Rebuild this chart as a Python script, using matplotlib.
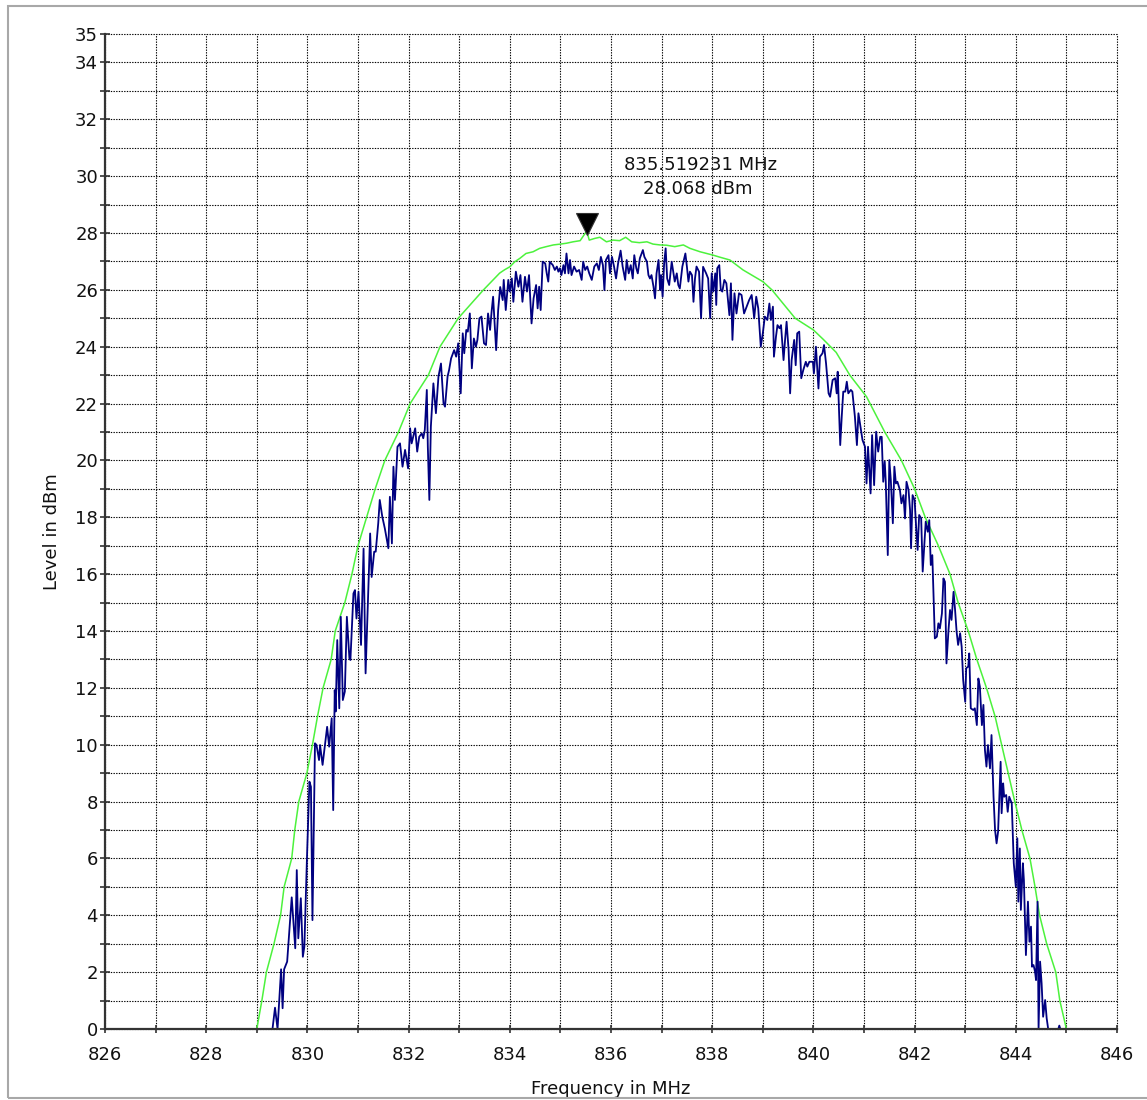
import matplotlib
matplotlib.use("Agg")
import matplotlib.pyplot as plt
from matplotlib.ticker import FixedLocator, FixedFormatter
from matplotlib.transforms import ScaledTranslation
from matplotlib.patches import Rectangle

plt.rcParams['font.family'] = ['DejaVu Sans']

# ---------------- data ----------------
x_ticks = list(range(826, 847))
x_tick_labels = ['826', '', '828', '', '830', '', '832', '', '834', '', '836', '', '838', '',
                 '840', '', '842', '', '844', '', '846']
y_ticks = list(range(0, 36))
y_tick_labels = ['0', '', '2', '', '4', '', '6', '', '8', '', '10', '', '12', '', '14', '', '16', '',
                 '18', '', '20', '', '22', '', '24', '', '26', '', '28', '', '30', '', '32', '', '34', '35']

maxhold_freq = [829.00, 829.05, 829.10, 829.19, 829.34, 829.47, 829.54, 829.69, 829.75, 829.83, 829.99,
                830.10, 830.20, 830.31, 830.47, 830.55, 830.74, 830.88, 831.00, 831.17, 831.34, 831.53,
                831.80, 832.03, 832.39, 832.62, 832.98, 833.48, 833.80, 833.90, 834.00, 834.10, 834.20,
                834.32, 834.46, 834.59, 834.72, 834.86, 835.00, 835.12, 835.25, 835.39, 835.52, 835.57,
                835.68, 835.78, 835.91, 836.04, 836.17, 836.29, 836.41, 836.56, 836.71, 836.83, 836.97,
                837.10, 837.26, 837.43, 837.56, 837.76, 837.89, 838.02, 838.15, 838.35, 838.61, 839.00,
                839.18, 839.64, 840.00, 840.20, 840.45, 840.72, 841.05, 841.41, 841.74, 842.00,
                842.21, 842.47, 842.70, 842.86, 843.06, 843.23, 843.42, 843.59, 843.72, 843.85, 843.98,
                844.12, 844.28, 844.38, 844.47, 844.61, 844.79, 844.87, 845.00]
maxhold_level = [0.0, 0.5, 1.0, 2.0, 3.0, 4.0, 5.0, 6.0, 7.0, 8.0, 9.0,
                 10.0, 11.0, 12.0, 13.0, 14.0, 15.0, 16.0, 17.0, 18.0, 19.0, 20.0,
                 21.0, 22.0, 23.0, 24.0, 25.0, 26.0, 26.59, 26.71, 26.81, 26.99, 27.11,
                 27.28, 27.34, 27.46, 27.52, 27.58, 27.61, 27.64, 27.69, 27.73, 28.07, 27.75,
                 27.81, 27.85, 27.69, 27.75, 27.73, 27.85, 27.69, 27.66, 27.69, 27.61, 27.58,
                 27.57, 27.52, 27.58, 27.46, 27.34, 27.28, 27.22, 27.15, 27.05, 26.70, 26.29,
                 26.0, 25.0, 24.59, 24.25, 23.80, 23.0, 22.24, 21.0, 20.0, 19.0,
                 18.0, 17.0, 16.0, 15.0, 14.0, 13.0, 12.0, 11.0, 10.0, 9.0, 8.0,
                 7.0, 6.0, 5.0, 4.0, 3.0, 2.0, 1.0, 0.0]

trace_freq = [
    829.31, 829.36, 829.41, 829.48, 829.51, 829.54, 829.60, 829.69, 829.76, 829.79, 829.82, 829.87,
    829.91, 829.94, 829.99, 830.04, 830.07, 830.10, 830.15, 830.18, 830.23, 830.25, 830.30, 830.35,
    830.39, 830.43, 830.48, 830.51, 830.54, 830.56, 830.59, 830.63, 830.66, 830.70, 830.74, 830.78,
    830.83, 830.85, 830.91, 830.94, 830.97, 831.01, 831.06, 831.11, 831.15, 831.21, 831.24, 831.27,
    831.32, 831.35, 831.40, 831.43, 831.48, 831.53, 831.60, 831.63, 831.67, 831.70, 831.73, 831.78,
    831.83, 831.88, 831.93, 831.99, 832.03, 832.06, 832.09, 832.13, 832.17, 832.21, 832.26, 832.29,
    832.32, 832.36, 832.38, 832.41, 832.44, 832.49, 832.54, 832.59, 832.64, 832.69, 832.72, 832.77,
    832.80, 832.84, 832.90, 832.94, 832.98, 833.03, 833.07, 833.10, 833.14, 833.17, 833.21, 833.25,
    833.29, 833.33, 833.36, 833.40, 833.44, 833.49, 833.53, 833.57, 833.61, 833.64, 833.67, 833.73,
    833.77,
    833.81, 833.86, 833.88, 833.92, 833.97, 834.00, 834.04, 834.07, 834.12, 834.17, 834.21, 834.25,
    834.30, 834.34, 834.38, 834.43, 834.47, 834.52, 834.55, 834.58, 834.61, 834.65, 834.70, 834.73,
    834.76, 834.79, 834.85, 834.89, 834.93, 834.96, 834.99, 835.02, 835.06, 835.09, 835.12, 835.16,
    835.19, 835.22, 835.27, 835.32, 835.37, 835.42, 835.45, 835.49, 835.53, 835.57, 835.62, 835.67,
    835.72, 835.76, 835.80, 835.84, 835.87, 835.90, 835.95, 835.98, 836.02, 836.06, 836.10, 836.14,
    836.19, 836.23, 836.28, 836.31, 836.35, 836.39, 836.43, 836.46, 836.50, 836.53, 836.57, 836.63,
    836.66, 836.71, 836.74, 836.77, 836.80, 836.84, 836.87, 836.90, 836.94, 836.97, 836.99, 837.02,
    837.05, 837.08, 837.11, 837.15, 837.20, 837.23, 837.26, 837.30, 837.33, 837.36, 837.41, 837.47,
    837.50, 837.53, 837.56, 837.60, 837.63, 837.66, 837.69, 837.74,
    837.78, 837.82, 837.88, 837.92, 837.96, 837.99, 838.02, 838.06, 838.08, 838.10, 838.14, 838.17,
    838.20, 838.24, 838.28, 838.34, 838.37, 838.40, 838.44, 838.48, 838.53, 838.58, 838.63, 838.68,
    838.73, 838.78, 838.83, 838.87, 838.91, 838.96, 839.00, 839.04, 839.09, 839.13, 839.16, 839.20,
    839.22, 839.26, 839.29, 839.33, 839.36, 839.41, 839.44, 839.47, 839.51, 839.54, 839.57, 839.62,
    839.65, 839.68, 839.72, 839.76, 839.80, 839.85, 839.88, 839.92, 839.95, 839.99, 840.01, 840.05,
    840.07, 840.10, 840.13, 840.18, 840.21, 840.25, 840.30, 840.33, 840.38, 840.43, 840.46, 840.48,
    840.53, 840.56, 840.59, 840.63, 840.66, 840.69, 840.74, 840.77, 840.82, 840.86, 840.89, 840.93,
    840.97,
    841.02, 841.05, 841.08, 841.13, 841.16, 841.20, 841.24, 841.28, 841.32, 841.35, 841.38, 841.41,
    841.43, 841.47, 841.50, 841.53, 841.57, 841.60, 841.63, 841.66, 841.71, 841.74, 841.78, 841.81,
    841.84, 841.88, 841.91, 841.93, 841.96, 842.00, 842.03, 842.06, 842.09, 842.13, 842.16, 842.19,
    842.22, 842.26, 842.29, 842.32, 842.35, 842.40, 842.44, 842.47, 842.50, 842.54, 842.57, 842.60,
    842.63, 842.67, 842.70, 842.73, 842.77, 842.80, 842.83, 842.86, 842.90, 842.93,
    842.96, 843.00, 843.02, 843.06, 843.08, 843.11, 843.16, 843.19, 843.23, 843.26, 843.29, 843.33,
    843.36, 843.39, 843.42, 843.45, 843.49, 843.52, 843.56, 843.59, 843.62, 843.65, 843.70, 843.72,
    843.75, 843.77, 843.81, 843.84, 843.87, 843.92, 843.96, 844.00, 844.03, 844.05, 844.08, 844.10,
    844.14, 844.16, 844.20, 844.24, 844.27, 844.30, 844.32, 844.35, 844.38, 844.40, 844.43, 844.45,
    844.48, 844.51, 844.54, 844.58, 844.61, 844.64, 844.84, 844.86, 844.88]
trace_level = [
    0.0, 0.75, 0.0, 2.10, 0.73, 2.10, 2.37, 4.63, 2.84, 5.59, 3.19, 4.60,
    2.54, 2.90, 5.94, 8.70, 8.52, 3.83, 10.05, 9.99, 9.46, 9.99, 9.29, 10.05,
    10.63, 9.93, 10.93, 7.70, 11.92, 11.17, 13.68, 11.28, 14.50, 11.57, 11.87, 14.50,
    13.04, 12.98, 15.32, 15.44, 14.44, 15.38, 13.51, 16.90, 12.51, 15.79, 17.43, 15.90,
    16.79, 16.79, 17.79, 18.61, 18.02, 17.61, 16.91, 18.72, 17.08, 19.78, 18.61, 20.48,
    20.60, 19.78, 20.37, 19.72, 21.13, 20.60, 20.83, 21.13, 20.31, 20.83, 20.95, 20.78,
    21.07, 22.48, 20.48, 18.61, 21.19, 22.71, 21.66, 22.95, 23.41, 22.01, 21.89, 22.95,
    23.18, 23.59, 23.88, 23.65, 24.12, 22.36, 24.47, 23.77, 24.59, 24.53, 25.17, 23.24,
    24.29, 24.00, 24.24, 25.00, 25.06, 24.12, 24.06, 25.17, 24.59, 25.23, 25.76, 23.88,
    25.29,
    26.10, 25.64, 26.35, 25.29, 26.35, 25.94, 26.40, 25.58, 26.64, 26.11, 26.52, 25.58,
    26.46, 25.94, 26.52, 24.82, 25.70, 26.17, 25.35, 26.11, 25.29, 26.99, 26.93, 26.58,
    26.29, 26.99, 26.87, 26.70, 26.82, 26.64, 26.76, 26.52, 26.87, 26.58, 27.28, 26.58,
    27.05, 26.52, 26.82, 26.64, 26.70, 26.35, 26.99, 26.70, 26.82, 26.58, 26.35, 26.82,
    26.93, 26.70, 27.16, 26.87, 25.99, 27.05, 27.22, 26.58, 27.16, 26.82, 26.40, 26.93,
    27.38, 26.82, 26.35, 27.05, 26.58, 26.87, 26.40, 27.22, 26.76, 26.58, 27.11, 27.40,
    27.16, 26.99, 26.52, 26.40, 26.52, 26.11, 25.70, 26.58, 27.05, 25.99, 26.52, 25.76,
    26.93, 27.46, 26.40, 26.17, 26.99, 26.64, 26.29, 26.58, 26.17, 26.05, 26.82, 27.28,
    26.82, 26.29, 26.64, 26.52, 25.58, 26.40, 26.82, 26.64,
    25.00, 26.81, 26.58, 26.40, 25.00, 26.58, 25.94, 26.58, 25.47, 26.76, 26.87, 25.99,
    25.94, 26.35, 26.23, 25.11, 26.23, 24.24, 25.88, 25.17, 25.88, 25.82, 25.17, 25.41,
    25.64, 25.82, 25.00, 25.76, 25.35, 24.00, 24.47, 25.06, 24.94, 25.52, 24.94, 25.41,
    23.65, 24.35, 24.76, 24.65, 24.76, 23.53, 24.24, 24.88, 23.88, 22.36, 23.53, 24.24,
    23.35, 24.47, 24.53, 22.89, 23.18, 23.47, 23.30, 23.47, 23.47, 23.47, 23.06, 24.00,
    23.41, 22.53, 23.65, 23.77, 24.06, 23.41, 22.36, 22.24, 22.83, 22.89, 22.36, 23.12,
    20.54, 21.54, 22.42, 22.42, 22.77, 22.36, 22.48, 22.42, 21.54, 20.54, 21.66, 21.19,
    20.72,
    20.48, 19.19, 20.48, 18.84, 20.89, 19.13, 21.01, 20.31, 20.83, 20.83, 19.25, 19.96,
    19.25, 16.67, 20.01, 19.31, 17.79, 19.78, 19.19, 19.25, 18.96, 18.49, 18.78, 17.96,
    19.25, 18.96, 18.26, 16.91, 18.78, 18.61, 17.67, 16.85, 18.08, 17.96, 16.09, 16.97,
    17.85, 17.49, 17.90, 16.32, 16.67, 13.74, 13.80, 14.27, 14.09, 14.62, 15.85, 15.73,
    12.86, 14.03, 14.74, 14.39, 15.38, 14.74, 13.98, 13.51, 13.92, 13.45,
    12.28, 11.51, 12.69, 12.75, 13.21, 11.28, 11.22, 11.28, 10.69, 12.33, 12.04, 10.69,
    11.40, 9.81, 9.23, 9.99, 9.17, 10.34, 8.17, 7.00, 6.53, 6.94, 9.40, 7.59,
    8.64, 8.17, 8.23, 7.64, 8.17, 7.94, 5.83, 5.01, 6.71, 4.48, 6.35, 4.19,
    5.83, 5.24, 2.60, 4.48, 3.07, 3.60, 2.19, 2.25, 2.02, 1.72, 4.48, 0.00,
    2.37, 1.61, 0.43, 1.02, 0.38, 0.00, 0.00, 0.12, 0.00]

marker_freq = 835.519231
marker_level = 28.068
marker_text = ['835.519231 MHz', '28.068 dBm']

# ---------------- figure ----------------
W, H = 1147, 1100
fig = plt.figure(figsize=(W / 100, H / 100), dpi=100)
fig.patches.append(Rectangle((8 / W, 2 / H), 1.2, (1092) / H, transform=fig.transFigure,
                             fill=False, edgecolor='#a8a8a8', lw=1.5))
ax = fig.add_axes([105 / W, 1 - 1029 / H, (1117 - 105) / W, (1029 - 34) / H])

ax.plot(maxhold_freq, maxhold_level, color='#4cf23c', lw=1.1, zorder=3)
ax.plot(trace_freq, trace_level, color='#000080', lw=1.3, zorder=4)

ax.set_xlim(826, 846)
ax.set_ylim(0, 35)

ax.xaxis.set_major_locator(FixedLocator(x_ticks))
ax.xaxis.set_major_formatter(FixedFormatter(x_tick_labels))
ax.yaxis.set_major_locator(FixedLocator(y_ticks))
ax.yaxis.set_major_formatter(FixedFormatter(y_tick_labels))

ax.grid(True, which='major', color='black', linestyle=(0, (1.2, 1.2)), lw=0.8)
for gl in ax.get_xgridlines() + ax.get_ygridlines():
    gl.set_clip_on(False)

for s in ['top', 'right']:
    ax.spines[s].set_visible(False)
for s in ['left', 'bottom']:
    ax.spines[s].set_color('#333333')
    ax.spines[s].set_linewidth(1.6)
    ax.spines[s].set_zorder(5)

ax.tick_params(axis='x', direction='inout', length=6, width=1.2, color='#333333',
               pad=9, labelsize=13, labelcolor='#111111')
ax.tick_params(axis='y', direction='inout', length=7, width=1.2, color='#333333',
               pad=1.5, labelsize=13, labelcolor='#111111')

ax.set_xlabel('Frequency in MHz', fontsize=13, color='#111111', labelpad=12)
ax.set_ylabel('Level in dBm', fontsize=13, color='#111111', labelpad=10)

# marker triangle (tip at the peak)
ax.plot([marker_freq], [marker_level], marker='v', markersize=15.5, color='black',
        markeredgecolor='#333333', markeredgewidth=0.8, linestyle='none', zorder=6,
        transform=ax.transData + ScaledTranslation(0, 5 / 72, fig.dpi_scale_trans))
ax.annotate(marker_text[0], xy=(marker_freq, marker_level), xytext=(82, 47.5),
            textcoords='offset points', ha='center', va='center', fontsize=13, color='#111111')
ax.annotate(marker_text[1], xy=(marker_freq, marker_level), xytext=(80, 30),
            textcoords='offset points', ha='center', va='center', fontsize=13, color='#111111')

fig.savefig('out.png', dpi=100)
